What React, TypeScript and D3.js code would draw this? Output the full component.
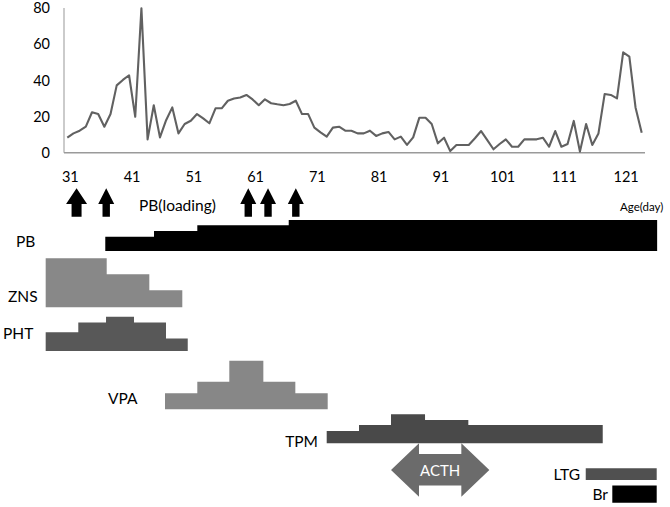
import React from "react";
import * as d3 from "d3";

// ---- data ----
const days: number[] = d3.range(31, 125);
const values: number[] = [
  8.3, 10.7, 12.2, 14.4, 22.4, 21.4, 14.4, 21.4, 37.3, 40.3,
  42.9, 19.9, 80, 7.4, 26.3, 8.5, 18, 25.1, 10.7, 15.9,
  17.7, 21.4, 19, 16.3, 24.6, 24.6, 28.8, 30, 30.6, 32,
  29.5, 26.3, 29.6, 27.4, 26.8, 26.3, 27, 28.8, 21.4, 21.4,
  13.9, 11.3, 8.9, 13.9, 14.4, 12.2, 12.2, 10.7, 10.7, 12.2,
  9.3, 10.7, 11.5, 7.4, 8.9, 4.3, 8.5, 19.4, 19.4, 15.9,
  5.2, 8.3, 0.9, 4.3, 4.3, 4.3, 8.0, 12, 7, 1.9,
  4.8, 7.4, 3.3, 3.3, 7.4, 7.4, 7.4, 8.3, 3.3, 12,
  3.3, 4.8, 17.6, 0.6, 15.9, 4.3, 10.7, 32.5, 32, 30.1,
  55.6, 53.2, 25.1, 11.1,
];
const yTicks: number[] = [0, 20, 40, 60, 80];
const xTicks: number[] = [31, 41, 51, 61, 71, 81, 91, 101, 111, 121];

// PB loading arrows (days)
const loadingDays: number[] = [32.5, 37.3, 60.3, 63.5, 68];

// drug step schedules: boundaries (days) and dose levels (relative units)
const pbBounds = [37.15, 45.04, 52.05, 66.85, 126.5];
const pbDose = [2.5, 3.5, 4.5, 5.45];
const znsBounds = [27.5, 37.38, 44.28, 49.62];
const znsDose = [8.6, 5.8, 3.0];
const phtBounds = [27.5, 32.78, 37.27, 41.8, 46.98, 50.5];
const phtDose = [3.3, 5.0, 6.0, 5.0, 2.2];
const vpaBounds = [46.82, 52.05, 57.23, 62.74, 67.92, 73.16];
const vpaDose = [2.8, 4.85, 8.5, 4.85, 2.8];
const tpmBounds = [73.0, 78.23, 83.41, 88.92, 95.93, 117.69];
const tpmDose = [2.15, 3.2, 5.1, 4.1, 3.2];
const ltgBounds = [114.94, 126.43];
const ltgDose = [2.05];
const brBounds = [119.24, 126.43];
const brDose = [3.0];
const acthDays = [83.41, 99.33];

export default function App() {
  const W = 670, H = 507;
  const x = d3.scaleLinear().domain([31, 124]).range([67.3, 641.7]);
  const y = d3.scaleLinear().domain([0, 80]).range([152.7, 8.3]);
  const dose = d3.scaleLinear().domain([0, 10]).range([0, 57]);
  const font = "Lato, 'Open Sans', sans-serif";

  const line = d3
    .line<number>()
    .x((_, i) => x(days[i]))
    .y((v) => y(v));

  const steps = (bounds: number[], doses: number[], base: number, fill: string, key: string) => {
    const pts = bounds.map((b, i) => ({ b, d: doses[Math.min(i, doses.length - 1)] }));
    const area = d3
      .area<{ b: number; d: number }>()
      .curve(d3.curveStepAfter)
      .x((p) => x(p.b))
      .y0(base)
      .y1((p) => base - dose(p.d));
    return <path key={key} d={area(pts) || ""} fill={fill} />;
  };

  const arrow = (d: number, i: number) => {
    const cx = x(d);
    const hw = i === 0 ? 10.5 : 8;
    const sw = i === 0 ? 5 : 3.7;
    const top = 188.3, hb = 204, bot = 216.7;
    const pts = [
      [cx, top], [cx + hw, hb], [cx + sw, hb], [cx + sw, bot],
      [cx - sw, bot], [cx - sw, hb], [cx - hw, hb],
    ];
    return <polygon key={"ar" + i} points={pts.map((p) => p.join(",")).join(" ")} fill="#000" />;
  };

  const ax0 = x(acthDays[0]);
  const ax1 = x(acthDays[1]);
  const hl = 28;
  const cy = 470;
  const acthPts = [
    [ax0, cy], [ax0 + hl, 443.3], [ax0 + hl, 454], [ax1 - hl, 454], [ax1 - hl, 443.3],
    [ax1, cy], [ax1 - hl, 496.7], [ax1 - hl, 485.5], [ax0 + hl, 485.5], [ax0 + hl, 496.7],
  ];

  return (
    <div style={{ position: "absolute", left: 0, top: 0 }}>
      <svg width={W} height={H} style={{ display: "block", background: "#fff" }} fontFamily={font}>
        {/* axes */}
        <line x1={64} x2={64} y1={8} y2={152.7} stroke="#a8a8a8" strokeWidth={1.2} />
        <line x1={64} x2={645} y1={152.7} y2={152.7} stroke="#9a9a9a" strokeWidth={1.4} />
        {yTicks.map((t) => (
          <text key={"yt" + t} x={50} y={y(t) + 5} textAnchor="end" fontSize={14.5} fill="#000">
            {t}
          </text>
        ))}
        {xTicks.map((t) => (
          <text key={"xt" + t} x={x(t) + 3} y={182} textAnchor="middle" fontSize={14.5} fill="#000">
            {t}
          </text>
        ))}
        <path d={line(values) || ""} fill="none" stroke="#616161" strokeWidth={2.1} strokeLinejoin="round" />

        {/* loading arrows */}
        {loadingDays.map(arrow)}
        <text x={139} y={211} fontSize={15.5} fill="#000">PB(loading)</text>
        <text x={620} y={211} fontSize={11.5} fill="#000">Age(day)</text>

        {/* drug bars */}
        {steps(pbBounds, pbDose, 251, "#000", "pb")}
        {steps(znsBounds, znsDose, 307.3, "#888888", "zns")}
        {steps(phtBounds, phtDose, 351, "#585858", "pht")}
        {steps(vpaBounds, vpaDose, 409.3, "#878787", "vpa")}
        {steps(tpmBounds, tpmDose, 443.3, "#494949", "tpm")}
        {steps(ltgBounds, ltgDose, 480, "#505050", "ltg")}
        {steps(brBounds, brDose, 502.7, "#000", "br")}

        <polygon points={acthPts.map((p) => p.join(",")).join(" ")} fill="#6b6b6b" />
        <text x={(ax0 + ax1) / 2} y={cy + 5.5} textAnchor="middle" fontSize={15} fill="#fff">ACTH</text>

        {/* labels */}
        <text x={16} y={247} fontSize={15.5} fill="#000">PB</text>
        <text x={8} y={302} fontSize={15.5} fill="#000">ZNS</text>
        <text x={3} y={339} fontSize={15.5} fill="#000">PHT</text>
        <text x={108} y={404} fontSize={15.5} fill="#000">VPA</text>
        <text x={318} y={447} textAnchor="end" fontSize={15.5} fill="#000">TPM</text>
        <text x={580} y={480} textAnchor="end" fontSize={15.5} fill="#000">LTG</text>
        <text x={608} y={500} textAnchor="end" fontSize={15.5} fill="#000">Br</text>
      </svg>
    </div>
  );
}
